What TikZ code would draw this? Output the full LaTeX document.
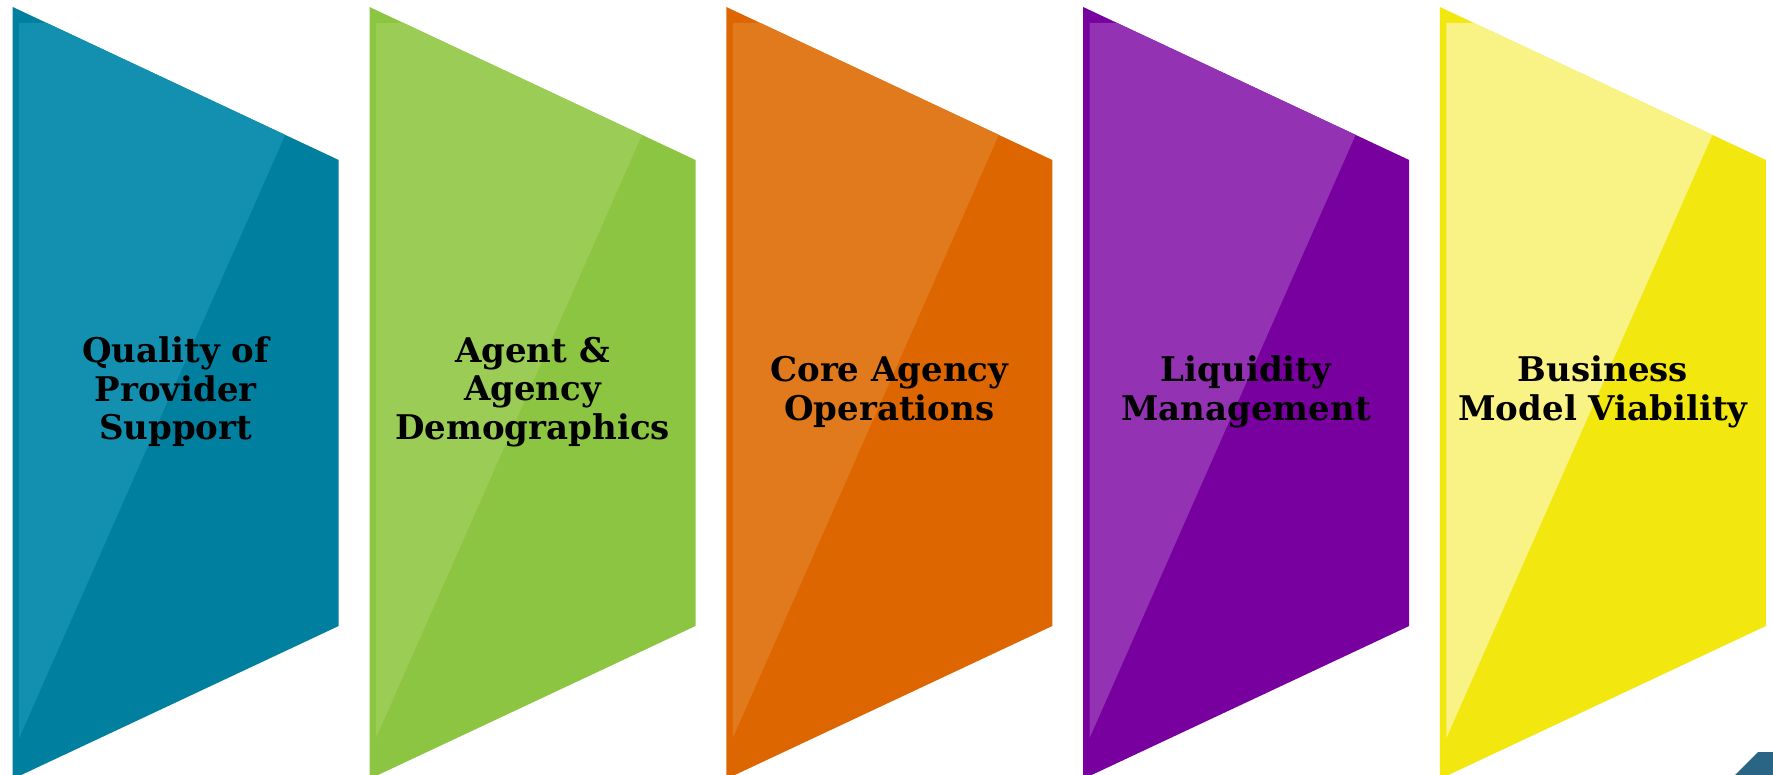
\documentclass[tikz,border=0pt]{standalone}
\usepackage{fontspec}
\setmainfont{DejaVu Serif}
\usepackage{xcolor}
\usetikzlibrary{calc}

\definecolor{qualitydark}{HTML}{007F9F}
\definecolor{qualitylight}{HTML}{138FB0}
\definecolor{agentdark}{HTML}{8CC541}
\definecolor{agentlight}{HTML}{9BCC56}
\definecolor{coredark}{HTML}{DE6600}
\definecolor{corelight}{HTML}{E07A1C}
\definecolor{liquiditydark}{HTML}{77009F}
\definecolor{liquiditylight}{HTML}{9332B2}
\definecolor{businessdark}{HTML}{F2E70E}
\definecolor{businesslight}{HTML}{F9F285}
\definecolor{cornerblue}{HTML}{2A6585}

\tikzset{
  paneltext/.style={align=center, text=black, inner sep=0pt,
    font=\bfseries\fontsize{34}{38.5}\selectfont},
}

\begin{document}
\begin{tikzpicture}[x=1pt, y=-1pt]
  \useasboundingbox (0,0) rectangle (1773,775);
  \clip (0,0) rectangle (1773,775);
  \foreach \i/\name/\txt in {0/quality/{Quality of\\Provider\\Support},
                             1/agent/{Agent \&\\Agency\\Demographics},
                             2/core/{Core Agency\\Operations},
                             3/liquidity/{Liquidity\\Management},
                             4/business/{Business\\Model Viability}} {
    \coordinate (\name-tl) at (12.7+356.8*\i, 7);
    \fill[\name dark] (\name-tl) -- ++(326,153) -- ++(0,466) -- ++(-326,153) -- cycle;
    % glossy part
    \fill[\name light] ($(\name-tl)+(6.5,16)$) -- ++(27.6,0)
      -- ($(\name-tl)+(272.5,127.9)$) -- ($(\name-tl)+(6.5,731)$) -- cycle;
    \node[paneltext] (\name) at ($(\name-tl)+(163,385)$) {\txt};
  }
  \fill[cornerblue] (1735,775) -- (1758,752) -- (1773,752) -- (1773,775) -- cycle;
\end{tikzpicture}
\end{document}
